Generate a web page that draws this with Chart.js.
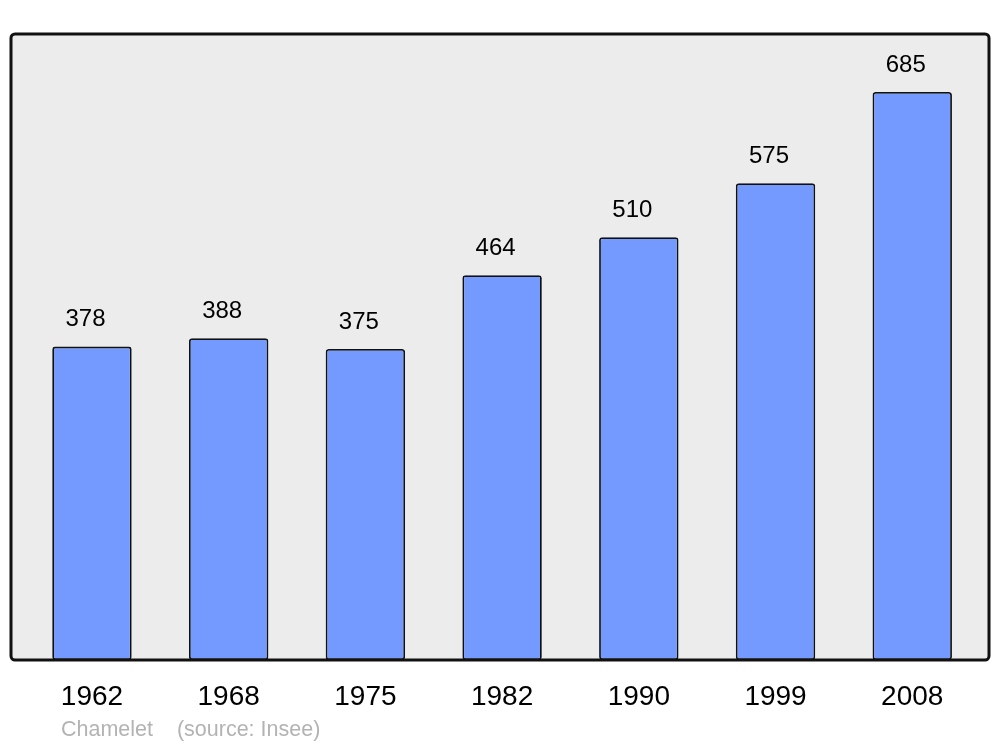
<!DOCTYPE html>
<html>
<head>
<meta charset="utf-8">
<script src="https://cdn.jsdelivr.net/npm/chart.js@4"></script>
<style>
  html, body { margin: 0; padding: 0; background: #fff; }
  #wrap { width: 1000px; height: 747px; }
</style>
</head>
<body>
<div id="wrap"><canvas id="chart"></canvas></div>
<script>
// données de population
const years = ["1962", "1968", "1975", "1982", "1990", "1999", "2008"];
const population = [378, 388, 375, 464, 510, 575, 685];
const footerText = "Chamelet    (source: Insee)";

// fond gris + cadre arrondi autour de la zone du graphique
const framePlugin = {
  id: "frame",
  frameBox(chart) {
    const a = chart.chartArea;
    return { x: a.left - 12.6, y: a.top, w: (a.right + 8.4) - (a.left - 12.6), h: a.bottom - a.top };
  },
  beforeDatasetsDraw(chart) {
    const ctx = chart.ctx;
    const b = this.frameBox(chart);
    ctx.save();
    ctx.beginPath();
    ctx.roundRect(b.x, b.y, b.w, b.h, 4);
    ctx.fillStyle = "#ececec";
    ctx.fill();
    ctx.restore();
  },
  afterDatasetsDraw(chart) {
    const ctx = chart.ctx;
    const b = this.frameBox(chart);
    ctx.save();
    ctx.beginPath();
    ctx.roundRect(b.x, b.y, b.w, b.h, 4);
    ctx.lineWidth = 3;
    ctx.strokeStyle = "#111";
    ctx.stroke();

    // valeurs au-dessus des barres
    const meta = chart.getDatasetMeta(0);
    ctx.fillStyle = "#000";
    ctx.font = "24px 'Liberation Sans', Arial, sans-serif";
    ctx.textAlign = "center";
    ctx.textBaseline = "middle";
    meta.data.forEach((bar, i) => {
      ctx.fillText(String(population[i]), bar.x - 6.5, bar.y - 27);
    });

    // source
    ctx.fillStyle = "#b3b3b3";
    ctx.font = "21.5px 'Liberation Sans', Arial, sans-serif";
    ctx.textAlign = "left";
    ctx.fillText(footerText, 61, 730);
    ctx.restore();
  }
};

new Chart(document.getElementById("chart").getContext("2d"), {
  type: "bar",
  data: {
    labels: years,
    datasets: [
      {
        label: "Population",
        data: population,
        backgroundColor: "#7499ff",
        borderColor: "#111",
        borderWidth: 1.8,
        borderSkipped: false,
        borderRadius: 3,
        barPercentage: 0.581,
        categoryPercentage: 1,
      },
    ],
  },
  options: {
    responsive: true,
    maintainAspectRatio: false,
    animation: false,
    layout: {
      padding: { left: 23.6, right: 19.4, top: 34, bottom: 0 },
    },
    scales: {
      x: {
        grid: { display: false, drawTicks: false },
        border: { display: false },
        ticks: {
          color: "#000",
          font: { size: 28, family: "'Liberation Sans', Arial, sans-serif" },
          padding: 20,
          maxRotation: 0,
        },
        afterFit(scale) {
          scale.height = 87;
        },
      },
      y: {
        display: false,
        min: 0,
        max: 755,
      },
    },
    plugins: {
      legend: { display: false },
      tooltip: { enabled: false },
    },
  },
  plugins: [framePlugin],
});
</script>
</body>
</html>
